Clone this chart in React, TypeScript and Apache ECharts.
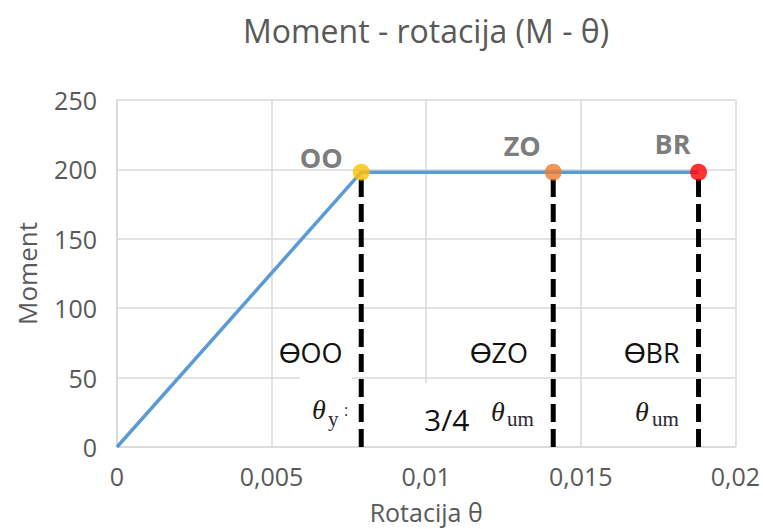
import React, { useEffect, useRef } from "react";
import * as echarts from "echarts";

const pointNames = ["OO", "ZO", "BR"];
const rotations = [0.0079, 0.01411, 0.01881];
const moments = [198, 198, 198];
const pointColors = ["#FFC000", "#ED7D31", "#FF0000"];
const curve = [
  [0, 0],
  [0.0079, 198],
  [0.01411, 198],
  [0.01881, 198],
];
const labelOffsets = [
  [-40, -15],
  [-31, -27],
  [-26, -29],
];
const thetaLabels = ["ϴOO", "ϴZO", "ϴBR"];

const FONT = "'Open Sans', Lato, sans-serif";
const GRAY = "#595959";

export default function App() {
  const ref = useRef<HTMLDivElement>(null);
  useEffect(() => {
    if (!ref.current) return;
    const chart = echarts.init(ref.current, null, { renderer: "svg" });
    const dashedSeries = rotations.map((x, i) => ({
      type: "line",
      data: [
        [x, 0],
        [x, moments[i]],
      ],
      symbol: "none",
      lineStyle: { color: "#000", width: 5, type: [18, 7] },
      z: 3,
      silent: true,
    }));
    const tStyle = { fill: "#111", font: "27px " + FONT };
    const thetaStyle = { fill: "#1e1a10", font: "italic 28px 'Liberation Serif', 'DejaVu Serif', serif" };
    const subStyle = { fill: "#2a2630", font: "21px 'Liberation Serif', 'DejaVu Serif', serif" };
    chart.setOption({
      animation: false,
      backgroundColor: "#fff",
      textStyle: { fontFamily: FONT },
      title: {
        text: "Moment - rotacija (M - θ)",
        left: 421,
        textAlign: "center",
        top: 9,
        textStyle: { fontFamily: FONT, fontSize: 32, fontWeight: "normal", color: GRAY },
      },
      grid: { left: 117, right: 25, top: 100, bottom: 82, containLabel: false },
      xAxis: {
        type: "value",
        min: 0,
        max: 0.02,
        interval: 0.005,
        name: "Rotacija θ",
        nameLocation: "middle",
        nameGap: 52,
        nameTextStyle: { fontSize: 25, color: GRAY, fontFamily: FONT },
        axisLine: { show: true, lineStyle: { color: "#d9d9d9", width: 1.5 } },
        axisTick: { show: false },
        splitLine: { show: true, lineStyle: { color: "#d9d9d9", width: 1.5 } },
        axisLabel: {
          fontSize: 25,
          color: GRAY,
          margin: 16,
          fontFamily: FONT,
          formatter: (v: number) => String(v).replace(".", ","),
        },
      },
      yAxis: {
        type: "value",
        min: 0,
        max: 250,
        interval: 50,
        name: "Moment",
        nameLocation: "middle",
        nameGap: 77,
        nameTextStyle: { fontSize: 26, color: GRAY, fontFamily: FONT },
        axisLine: { show: true, lineStyle: { color: "#d9d9d9", width: 1.5 } },
        axisTick: { show: false },
        splitLine: { show: true, lineStyle: { color: "#d9d9d9", width: 1.5 } },
        axisLabel: { fontSize: 25, color: GRAY, margin: 20, fontFamily: FONT },
      },
      series: [
        {
          type: "line",
          data: curve,
          symbol: "none",
          lineStyle: { color: "#5B9BD5", width: 3.5 },
          z: 2,
        },
        ...dashedSeries,
        {
          type: "scatter",
          symbolSize: 17,
          z: 5,
          data: rotations.map((x, i) => ({
            value: [x, moments[i]],
            itemStyle: { color: pointColors[i] },
            label: {
              show: true,
              position: "inside",
              offset: labelOffsets[i],
              formatter: pointNames[i],
              fontSize: 27,
              fontWeight: "bold",
              color: GRAY,
              fontFamily: FONT,
            },
          })),
        },
      ],
      graphic: [
        { type: "rect", shape: { x: 300, y: 372, width: 52, height: 74 }, style: { fill: "#fff" }, z: 10 },
        { type: "rect", shape: { x: 398, y: 383, width: 152, height: 63 }, style: { fill: "#fff" }, z: 10 },
        { type: "rect", shape: { x: 620, y: 383, width: 72, height: 63 }, style: { fill: "#fff" }, z: 10 },
        { type: "text", x: 279, y: 352, style: { ...tStyle, text: thetaLabels[0], verticalAlign: "middle" }, z: 11 },
        { type: "text", x: 470, y: 352, style: { ...tStyle, text: thetaLabels[1], verticalAlign: "middle" }, z: 11 },
        { type: "text", x: 624, y: 352, style: { ...tStyle, text: thetaLabels[2], verticalAlign: "middle" }, z: 11 },
        { type: "text", x: 312, y: 409, style: { ...thetaStyle, text: "θ", verticalAlign: "middle" }, z: 11 },
        { type: "text", x: 328, y: 419, style: { ...subStyle, text: "y", verticalAlign: "middle" }, z: 11 },
        { type: "text", x: 344, y: 410, style: { fill: "#333", font: "16px " + FONT, text: ":", verticalAlign: "middle" }, z: 11 },
        { type: "text", x: 424, y: 419, style: { ...tStyle, font: "30px " + FONT, text: "3/4", verticalAlign: "middle" }, z: 11 },
        { type: "text", x: 491, y: 411, style: { ...thetaStyle, text: "θ", verticalAlign: "middle" }, z: 11 },
        { type: "text", x: 507, y: 419, style: { ...subStyle, text: "um", verticalAlign: "middle" }, z: 11 },
        { type: "text", x: 635, y: 411, style: { ...thetaStyle, text: "θ", verticalAlign: "middle" }, z: 11 },
        { type: "text", x: 652, y: 419, style: { ...subStyle, text: "um", verticalAlign: "middle" }, z: 11 },
      ],
    });
    return () => chart.dispose();
  }, []);
  return (
    <div
      ref={ref}
      style={{ position: "fixed", left: 0, top: 0, width: 763, height: 529 }}
    />
  );
}
